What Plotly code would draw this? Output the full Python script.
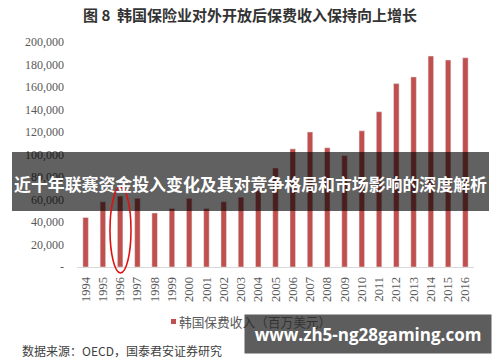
import plotly.graph_objects as go

years = [str(y) for y in range(1994, 2017)]
premiums = [44000, 58000, 63000, 61000, 48000, 52000, 61000, 52000, 58000, 62000,
            68000, 88000, 105000, 120000, 106000, 99000, 121000, 138000, 163000,
            169000, 187500, 184000, 186000]
y_tickvals = [0, 20000, 40000, 60000, 80000, 100000, 120000, 140000, 160000, 180000, 200000]
y_ticktext = ["-", "20,000", "40,000", "60,000", "80,000", "100,000", "120,000",
              "140,000", "160,000", "180,000", "200,000"]

title_text = "图 8  韩国保险业对外开放后保费收入保持向上增长"
legend_text = "韩国保费收入（百万美元）"
source_text = "数据来源：OECD，国泰君安证券研究"
banner_text = "近十年联赛资金投入变化及其对竞争格局和市场影响的深度解析"
watermark_text = "www.zh5-ng28gaming.com"

W, H = 500, 362
L, R, T, B = 77, 26, 42, 95
PW, PH = W - L - R, H - T - B


def px(x):
    return (x - L) / PW


def py(y):
    return (H - B - y) / PH


BAR = "#c0504d"
serif = "Liberation Serif, Times New Roman, serif"
cjk = "Noto Sans CJK SC, sans-serif"

fig = go.Figure()
fig.add_trace(go.Bar(x=years, y=premiums, marker_color=BAR, width=0.32,
                     showlegend=False, hoverinfo="skip"))

fig.update_layout(
    width=W, height=H,
    margin=dict(l=L, r=R, t=T, b=B),
    paper_bgcolor="white", plot_bgcolor="white",
    xaxis=dict(type="category", range=[-0.5, 22.5], tickangle=-90,
               showgrid=False, showline=True, linecolor="#d9d9d9", linewidth=1,
               ticks="", tickfont=dict(family=serif, size=12.5, color="#595959"),
               ticklabelstandoff=4, fixedrange=True),
    yaxis=dict(range=[0, 200000], tickvals=y_tickvals, ticktext=y_ticktext,
               showgrid=False, showline=False, zeroline=False, ticks="",
               tickfont=dict(family=serif, size=12, color="#595959"),
               ticklabelstandoff=12, fixedrange=True),
    showlegend=False,
)

shapes = []
# dark banner
shapes.append(dict(type="rect", xref="paper", yref="paper",
                   x0=px(12), x1=px(489), y0=py(211), y1=py(152),
                   fillcolor="rgba(0,0,0,0.62)", line=dict(width=0), layer="above"))
# red ellipse around 1996
shapes.append(dict(type="circle", xref="paper", yref="paper",
                   x0=px(110), x1=px(131), y0=py(273), y1=py(187),
                   line=dict(color="#e01010", width=1.6), fillcolor="rgba(0,0,0,0)",
                   layer="above"))
# legend square
shapes.append(dict(type="rect", xref="paper", yref="paper",
                   x0=px(171), x1=px(176), y0=py(324), y1=py(319),
                   fillcolor=BAR, line=dict(width=0), layer="above"))
fig.update_layout(shapes=shapes)

ann = []
ann.append(dict(text=f"<b>{title_text}</b>", xref="paper", yref="paper",
                x=px(250), y=py(15), xanchor="center", yanchor="middle",
                showarrow=False, font=dict(family=cjk, size=15, color="#333333")))
ann.append(dict(text=f"<b>{banner_text}</b>", xref="paper", yref="paper",
                x=px(250.5), y=py(183), xanchor="center", yanchor="middle",
                showarrow=False, font=dict(family=cjk, size=16.9, color="white")))
ann.append(dict(text=legend_text, xref="paper", yref="paper",
                x=px(177), y=py(321), xanchor="left", yanchor="middle",
                showarrow=False, font=dict(family=cjk, size=12.7, color="#595959")))
ann.append(dict(text=source_text, xref="paper", yref="paper",
                x=px(20), y=py(350), xanchor="left", yanchor="middle",
                showarrow=False, font=dict(family=cjk, size=12, color="#404040")))
ann.append(dict(text=f"<b>{watermark_text}</b>", xref="paper", yref="paper",
                x=px(368), y=py(334), xanchor="center", yanchor="middle",
                width=246, height=38, borderpad=0,
                bgcolor="rgba(36,36,36,0.74)",
                showarrow=False, font=dict(family="Open Sans, sans-serif", size=17,
                                           color="white")))
fig.update_layout(annotations=ann)

fig.write_html("out.html",
               config={"displayModeBar": False, "staticPlot": True},
               post_script="document.body.style.margin='0';document.body.style.overflow='hidden';")
